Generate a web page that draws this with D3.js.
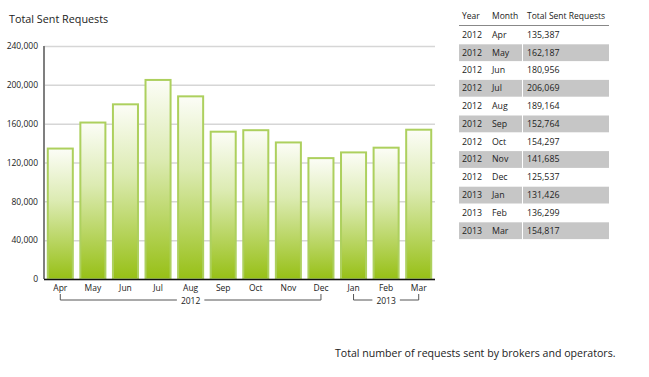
<!DOCTYPE html>
<html><head><meta charset="utf-8">
<script src="https://cdn.jsdelivr.net/npm/d3@7"></script>
<style>
body{margin:0;background:#fff;}
svg{display:block;font-family:"Open Sans",sans-serif;}
</style></head>
<body>
<svg id="c" width="649" height="377"></svg>
<script>
const months = ["Apr","May","Jun","Jul","Aug","Sep","Oct","Nov","Dec","Jan","Feb","Mar"];
const years = ["2012","2012","2012","2012","2012","2012","2012","2012","2012","2013","2013","2013"];
const values = [135387,162187,180956,206069,189164,152764,154297,141685,125537,131426,136299,154817];
const yTicks = [0,40000,80000,120000,160000,200000,240000];
const title = "Total Sent Requests";
const tableHeaders = ["Year","Month","Total Sent Requests"];
const footnote = "Total number of requests sent by brokers and operators.";

(function(){
const svg = d3.select("#c");
const pL = 44, pR = 435, pT = 46, pB = 279;

const x = d3.scaleBand().domain(d3.range(months.length)).range([pL, pR]).paddingInner(0.17).paddingOuter(0.085);
const y = d3.scaleLinear().domain([0, 240000]).range([pB, pT]);

const defs = svg.append("defs");
const g = defs.append("linearGradient").attr("id","barGrad").attr("x1",0).attr("y1",0).attr("x2",0).attr("y2",1);
g.append("stop").attr("offset","0%").attr("stop-color","#fcfdf7");
g.append("stop").attr("offset","40%").attr("stop-color","#dcebb2");
g.append("stop").attr("offset","100%").attr("stop-color","#97c016");

svg.append("text").attr("x",9).attr("y",23).attr("font-size",10.8).attr("fill","#222").text(title);

const yAxis = d3.axisLeft(y).tickValues(yTicks).tickSize(-(pR-pL)).tickPadding(6).tickFormat(d3.format(","));
const ya = svg.append("g").attr("transform",`translate(${pL},0)`).call(yAxis);
ya.select(".domain").remove();
ya.selectAll(".tick line").attr("stroke","#d6d6d6").attr("stroke-width",1.5);
ya.selectAll(".tick text").attr("font-size",8.5).attr("fill","#222").attr("font-family","Open Sans, sans-serif");

svg.append("g").selectAll("rect").data(values).join("rect")
  .attr("x",(d,i)=>x(i)+1).attr("width",x.bandwidth()-2)
  .attr("y",d=>y(d)+1).attr("height",d=>pB-y(d)-1)
  .attr("fill","url(#barGrad)").attr("stroke","#add05e").attr("stroke-width",2);

svg.append("line").attr("x1",pL).attr("x2",pL).attr("y1",pT).attr("y2",pB).attr("stroke","#7f7f7f").attr("stroke-width",2);
svg.append("line").attr("x1",pL).attr("x2",pR).attr("y1",pB+0.5).attr("y2",pB+0.5).attr("stroke","#111").attr("stroke-width",1.5);

const xa = svg.append("g").attr("transform",`translate(0,${pB})`)
  .call(d3.axisBottom(x).tickSize(0).tickPadding(6).tickFormat(i=>months[i]));
xa.select(".domain").remove();
xa.selectAll("text").attr("font-size",8.5).attr("fill","#222").attr("font-family","Open Sans, sans-serif");

const groups = d3.groups(d3.range(years.length), i=>years[i]);
const yb = 300, ytop = 294;
groups.forEach(([yr, idx])=>{
  const x0 = x(idx[0]) + x.bandwidth()/2, x1 = x(idx[idx.length-1]) + x.bandwidth()/2;
  const cx = (x0+x1)/2;
  const gg = svg.append("g");
  const t = gg.append("text").attr("x",cx).attr("y",yb+3.5).attr("text-anchor","middle").attr("font-size",8.5).attr("fill","#222").text(yr);
  const w = t.node().getComputedTextLength()/2 + 4;
  gg.append("path").attr("d",`M${x0},${ytop}V${yb}H${cx-w}M${cx+w},${yb}H${x1}V${ytop}`)
    .attr("fill","none").attr("stroke","#555").attr("stroke-width",1);
});

const tx = [462, 492, 527];
const tLeft = 459, tRight = 609, rowTop = 25.5, rowH = 17.8;
const th = svg.append("g");
tableHeaders.forEach((h,i)=>th.append("text").attr("x",tx[i]).attr("y",19).attr("font-size",8.5).attr("fill","#222").text(h));
svg.append("line").attr("x1",tLeft).attr("x2",tRight).attr("y1",rowTop).attr("y2",rowTop).attr("stroke","#888").attr("stroke-width",1.2);
const rows = svg.append("g").selectAll("g").data(values).join("g")
  .attr("transform",(d,i)=>`translate(0,${rowTop + 0.5 + i*rowH})`);
rows.filter((d,i)=>i%2===1).append("rect").attr("x",tLeft).attr("y",0.5).attr("width",tRight-tLeft).attr("height",rowH-1).attr("fill","#c6c6c6");
rows.filter((d,i)=>i%2===1).append("line").attr("x1",522.5).attr("x2",522.5).attr("y1",0).attr("y2",rowH).attr("stroke","#fff").attr("stroke-width",1);
const fmt = d3.format(",");
rows.append("text").attr("x",tx[0]).attr("y",rowH/2+3).attr("font-size",8.8).attr("fill","#222").text((d,i)=>years[i]);
rows.append("text").attr("x",tx[1]).attr("y",rowH/2+3).attr("font-size",8.8).attr("fill","#222").text((d,i)=>months[i]);
rows.append("text").attr("x",tx[2]).attr("y",rowH/2+3).attr("font-size",8.8).attr("fill","#222").text(d=>fmt(d));

svg.append("text").attr("x",335).attr("y",357).attr("font-size",10.6).attr("fill","#222").text(footnote);
})();
</script>
</body></html>
